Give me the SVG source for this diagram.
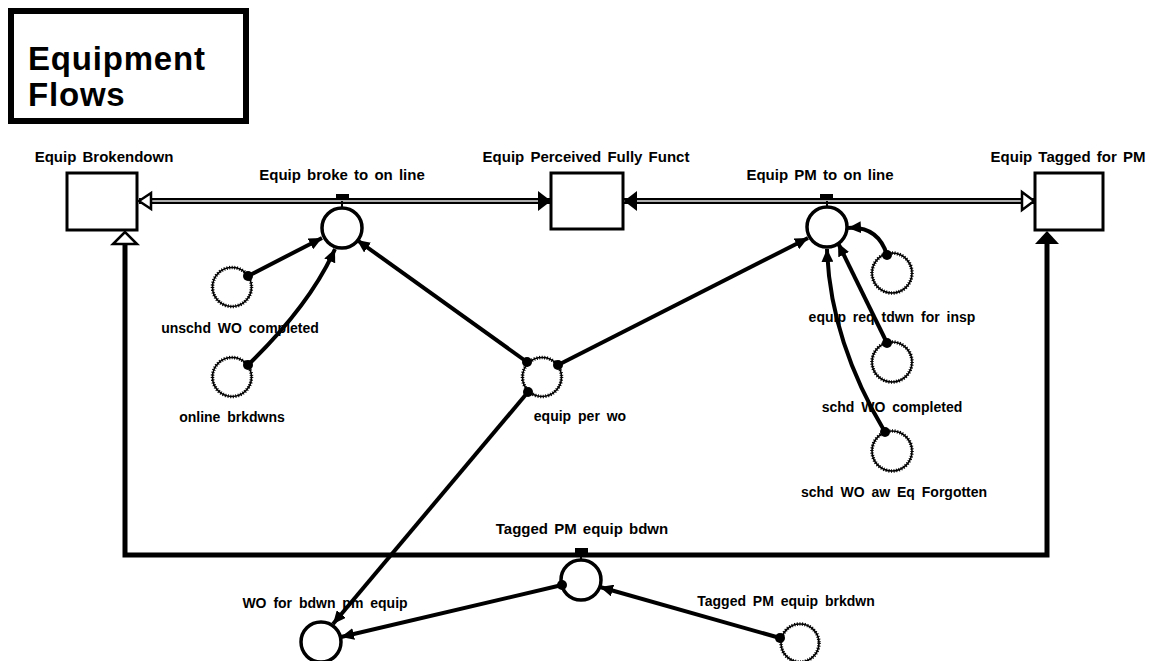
<svg xmlns="http://www.w3.org/2000/svg" width="1150" height="661" viewBox="0 0 1150 661">
<style>
text{font-family:"Liberation Sans",Arial,sans-serif;font-weight:bold;fill:#000}
.t{font-size:33px}
.lb{font-size:15px;text-anchor:middle;word-spacing:2px}
.la{font-size:14px;text-anchor:middle;word-spacing:3px}
.stock{fill:#fff;stroke:#000;stroke-width:3}
.valve{fill:#fff;stroke:#000;stroke-width:3.5}
.auxs{fill:#fff;stroke:#000;stroke-width:1.6}
.auxd{fill:none;stroke:#000;stroke-width:3.6;stroke-dasharray:1 1.6}
.conn{fill:none;stroke:#000;stroke-width:4;marker-end:url(#ah)}
.dot{fill:#000}
</style>
<defs>
<marker id="ah" markerUnits="userSpaceOnUse" markerWidth="14" markerHeight="12" refX="13" refY="6" orient="auto">
<path d="M0,0 L13,6 L0,12 Z" fill="#000"/>
</marker>
</defs>
<rect width="1150" height="661" fill="#fff"/>

<g id="title">
<rect x="11" y="11" width="235" height="110" fill="#fff" stroke="#000" stroke-width="6"/>
<text class="t" x="28" y="70" letter-spacing="0.8">Equipment</text>
<text class="t" x="28" y="106" letter-spacing="0.8">Flows</text>
</g>

<g id="pipes">
<line x1="139" y1="201" x2="1034" y2="201" stroke="#000" stroke-width="6"/>
<line x1="139" y1="201" x2="1034" y2="201" stroke="#e8e8e8" stroke-width="1.6"/>
<path d="M125,243 V555 H1047 V243" fill="none" stroke="#000" stroke-width="5"/>
<path d="M139,201 L151,193 L151,209 Z" fill="#fff" stroke="#000" stroke-width="2.5"/>
<path d="M551,201 L538,191 L538,211 Z" fill="#000"/>
<path d="M624,201 L637,191 L637,211 Z" fill="#000"/>
<path d="M1034,201 L1022,192 L1022,210 Z" fill="#fff" stroke="#000" stroke-width="2.5"/>
<path d="M125,232 L113,244 L137,244 Z" fill="#fff" stroke="#000" stroke-width="2.5"/>
<path d="M1047,231 L1035,244 L1059,244 Z" fill="#000"/>
</g>

<g id="equip-brokendown">
<rect class="stock" x="67" y="173" width="70" height="57"/>
<text class="lb" x="104" y="162">Equip Brokendown</text>
</g>
<g id="equip-perceived">
<rect class="stock" x="551" y="173" width="72" height="56"/>
<text class="lb" x="586" y="162">Equip Perceived Fully Funct</text>
</g>
<g id="equip-tagged">
<rect class="stock" x="1035" y="173" width="68" height="57"/>
<text class="lb" x="1068" y="162">Equip Tagged for PM</text>
</g>

<g id="valve-broke">
<rect x="336" y="194" width="13" height="5" fill="#000"/>
<line x1="342" y1="201" x2="342" y2="208" stroke="#000" stroke-width="2"/>
<circle class="valve" cx="342" cy="228" r="20"/>
<text class="lb" x="342" y="180">Equip broke to on line</text>
</g>
<g id="valve-pm">
<rect x="820" y="194" width="13" height="5" fill="#000"/>
<line x1="827" y1="201" x2="827" y2="207" stroke="#000" stroke-width="2"/>
<circle class="valve" cx="827" cy="227" r="20"/>
<text class="lb" x="820" y="180">Equip PM to on line</text>
</g>
<g id="valve-tagged">
<rect x="575" y="548" width="13" height="5" fill="#000"/>
<line x1="581" y1="555" x2="581" y2="560" stroke="#000" stroke-width="2"/>
<circle class="valve" cx="581" cy="580" r="20"/>
<text class="lb" x="582" y="534">Tagged PM equip bdwn</text>
</g>

<g id="wo-bdwn">
<circle class="valve" cx="321" cy="642" r="20"/>
<text class="la" x="325" y="608">WO for bdwn pm equip</text>
</g>

<g id="unschd-wo">
<circle class="auxs" cx="232" cy="287" r="19.5"/>
<circle class="auxd" cx="232" cy="287" r="19.5"/>
<text class="la" x="240" y="333">unschd WO completed</text>
</g>
<g id="online-brkdwns">
<circle class="auxs" cx="232" cy="377" r="19.5"/>
<circle class="auxd" cx="232" cy="377" r="19.5"/>
<text class="la" x="232" y="422">online brkdwns</text>
</g>
<g id="equip-per-wo">
<circle class="auxs" cx="542" cy="377" r="19.5"/>
<circle class="auxd" cx="542" cy="377" r="19.5"/>
<text class="la" x="580" y="421">equip per wo</text>
</g>
<g id="equip-req-tdwn">
<circle class="auxs" cx="892" cy="273" r="20"/>
<circle class="auxd" cx="892" cy="273" r="20"/>
<text class="la" x="892" y="322">equip req tdwn for insp</text>
</g>
<g id="schd-wo-completed">
<circle class="auxs" cx="892" cy="362" r="20"/>
<circle class="auxd" cx="892" cy="362" r="20"/>
<text class="la" x="892" y="412">schd WO completed</text>
</g>
<g id="schd-wo-forgotten">
<circle class="auxs" cx="892" cy="451" r="20"/>
<circle class="auxd" cx="892" cy="451" r="20"/>
<text class="la" x="894" y="497">schd WO aw Eq Forgotten</text>
</g>
<g id="tagged-brkdwn">
<circle class="auxs" cx="800" cy="643" r="19"/>
<circle class="auxd" cx="800" cy="643" r="19"/>
<text class="la" x="786" y="606">Tagged PM equip brkdwn</text>
</g>

<g id="connectors">
<path class="conn" d="M248,276 L322,238"/>
<path class="conn" stroke-width="3.5" d="M248,365 Q310,305 335,249"/>
<path class="conn" d="M527,362 L357,240"/>
<path class="conn" d="M558,365 L808,238"/>
<path class="conn" stroke-width="4.5" d="M528,392 L333,624"/>
<path class="conn" stroke-width="3.5" d="M887,255 Q878,226 848,228"/>
<path class="conn" d="M887,343 L838,243"/>
<path class="conn" stroke-width="3.5" d="M885,432 Q830,340 827,249"/>
<path class="conn" d="M780,638 L600,587"/>
<path class="conn" d="M562,585 L341,637"/>
<circle class="dot" cx="248" cy="276" r="5"/>
<circle class="dot" cx="248" cy="365" r="5"/>
<circle class="dot" cx="527" cy="362" r="5"/>
<circle class="dot" cx="558" cy="365" r="5"/>
<circle class="dot" cx="528" cy="392" r="5"/>
<circle class="dot" cx="887" cy="255" r="5"/>
<circle class="dot" cx="887" cy="343" r="5"/>
<circle class="dot" cx="885" cy="432" r="5"/>
<circle class="dot" cx="780" cy="638" r="5"/>
<circle class="dot" cx="562" cy="585" r="5"/>
</g>
</svg>
